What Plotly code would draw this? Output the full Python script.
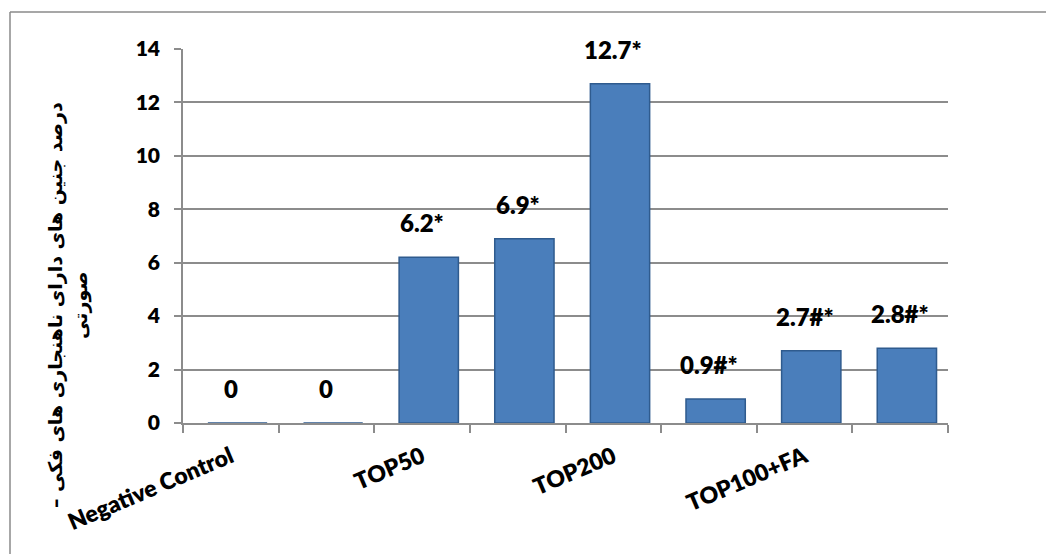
import plotly.graph_objects as go

# Groups (every second one carries a visible axis label)
categories = ["Negative Control", "FA", "TOP50", "TOP100", "TOP200",
              "TOP50+FA", "TOP100+FA", "TOP200+FA"]
values = [0, 0, 6.2, 6.9, 12.7, 0.9, 2.7, 2.8]
value_labels = ["0", "0", "6.2*", "6.9*", "12.7*", "0.9#*", "2.7#*", "2.8#*"]
shown_ticks = ["Negative Control", "TOP50", "TOP200", "TOP100+FA"]
y_ticks = [0, 2, 4, 6, 8, 10, 12, 14]
# RLM keeps the dash inside the right-to-left run
y_title = "درصد جنین های دارای ناهنجاری های فکی –\u200f<br>صورتی"

x_pos = list(range(len(categories)))
tick_pos = [categories.index(c) for c in shown_ticks]

W, H = 1046, 554
ML, MR, MT, MB = 183, 98, 49, 131
pw, ph = W - ML - MR, H - MT - MB


def px_x(p):
    return (p - ML) / pw


def px_y(p):
    return (H - MB - p) / ph


FONT = "Lato, 'Open Sans', 'DejaVu Sans', sans-serif"
GRID = "#8c8c8c"

fig = go.Figure()
fig.add_trace(go.Bar(
    x=x_pos, y=values,
    marker=dict(color="#4a7ebb", line=dict(color="#2f5b8e", width=1.5)),
    hovertext=categories,
    width=0.62,
    offset=-0.24,
))

for xi, v, t in zip(x_pos, values, value_labels):
    fig.add_annotation(
        x=xi, y=v, text=t, showarrow=False,
        yanchor="bottom", yshift=18,
        font=dict(family=FONT, size=24, color="#000000", weight=800),
    )

# Axis title
fig.add_annotation(
    xref="paper", yref="paper", x=px_x(68), y=px_y(305),
    xanchor="center", yanchor="middle",
    text=y_title, showarrow=False, textangle=-90,
    font=dict(family="'DejaVu Sans', sans-serif", size=19, color="#000000", weight="bold"),
    align="center",
)

# Chart frame (top and left edges)
fig.add_shape(type="line", xref="paper", yref="paper",
              x0=px_x(10), x1=px_x(W + 5), y0=px_y(12), y1=px_y(12),
              line=dict(color="#8a8a8a", width=1.5))
fig.add_shape(type="line", xref="paper", yref="paper",
              x0=px_x(10), x1=px_x(10), y0=px_y(12), y1=px_y(H + 5),
              line=dict(color="#8a8a8a", width=1.5))

fig.update_layout(
    width=W, height=H,
    margin=dict(l=ML, r=MR, t=MT, b=MB),
    paper_bgcolor="white", plot_bgcolor="white",
    showlegend=False,
    bargap=0.35,
    xaxis=dict(
        range=[-0.5, len(categories) - 0.5],
        tickmode="array", tickvals=tick_pos, ticktext=shown_ticks,
        tickangle=-23, ticks="",
        tickfont=dict(family=FONT, size=23, color="#000000", weight=800),
        ticklabelstandoff=10,
        showgrid=False, zeroline=False,
        showline=True, linecolor=GRID, linewidth=1.5,
        minor=dict(tickvals=[i - 0.5 for i in range(len(categories) + 1)],
                   ticks="outside", ticklen=8, tickcolor=GRID, tickwidth=1.5),
    ),
    yaxis=dict(
        range=[0, 14], tickvals=y_ticks,
        tickfont=dict(family=FONT, size=21, color="#000000", weight=800),
        ticks="outside", ticklen=7, tickcolor=GRID, tickwidth=1.5,
        ticklabelstandoff=10,
        showgrid=True, gridcolor=GRID, gridwidth=1.5,
        zeroline=False,
        showline=True, linecolor=GRID, linewidth=1.5,
    ),
)

fig.write_html("out.html")
